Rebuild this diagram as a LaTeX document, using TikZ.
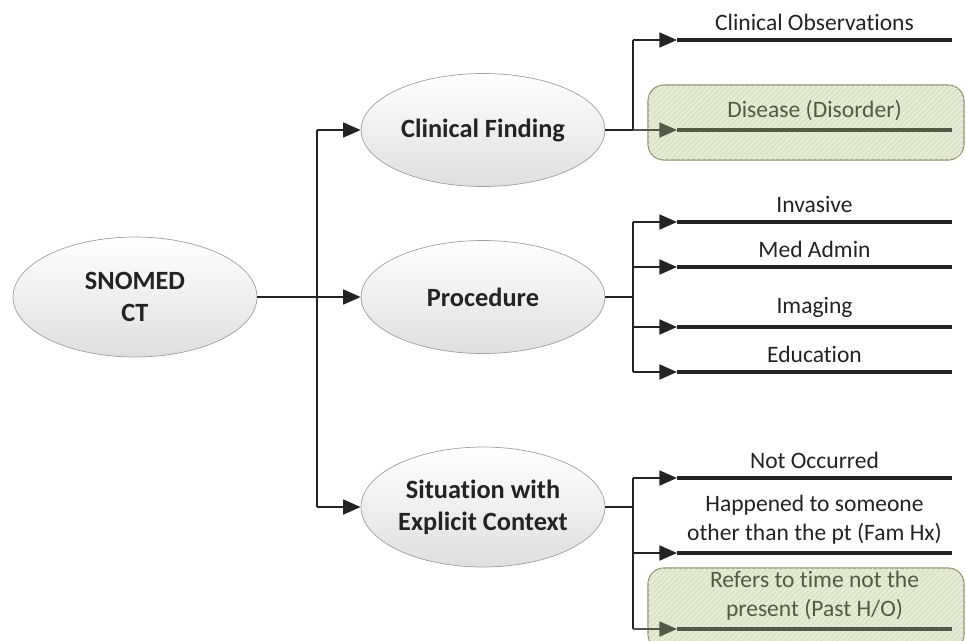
\documentclass[tikz,border=0pt]{standalone}
\usepackage{fontspec}
\setmainfont[Ligatures=NoCommon]{Carlito}
\usetikzlibrary{positioning,shapes.geometric,arrows.meta,patterns}
\pgfdeclarelayer{bg}
\pgfsetlayers{bg,main}
\definecolor{inkgray}{RGB}{35,35,35}
\definecolor{paleolive}{RGB}{229,236,214}
\definecolor{hatchline}{RGB}{210,220,192}
\definecolor{oliveink}{RGB}{80,90,70}
\tikzset{
  concept/.style={ellipse,draw=gray!75,top color=white,bottom color=gray!25,
    font=\bfseries\fontsize{15}{18}\selectfont,text=inkgray,align=center,
    minimum width=4.88cm,minimum height=2.26cm,inner sep=0pt},
  trunk/.style={line width=1.1pt,draw=inkgray},
  branch/.style={trunk,-{Triangle[length=10pt,width=8.5pt]}},
  leafline/.style={line width=2.4pt,draw=inkgray},
  leaftext/.style={font=\fontsize{13.4}{16.5}\selectfont,text=inkgray,align=center,
    anchor=south,inner sep=0pt,yshift=4pt},
  highlight/.style={rounded corners=9pt,draw=gray!70!olive,line width=0.6pt,
    fill=paleolive,postaction={pattern=north east lines,pattern color=hatchline}},
  fadedline/.style={draw=oliveink},
  fadedtext/.style={text=oliveink}
}
\begin{document}
\begin{tikzpicture}[x=0.02cm,y=-0.02cm]
\useasboundingbox (0,0) rectangle (966,640);
% concepts
\node[concept,minimum height=2.4cm] (root) at (135,297) {SNOMED\\CT};
\node[concept] (finding) at (483,130) {Clinical Finding};
\node[concept] (procedure) at (483,297) {Procedure};
\node[concept,minimum height=2.4cm] (situation) at (483,507) {Situation with\\Explicit Context};
% trunk from root
\coordinate (j0) at (317,297);
\draw[trunk] (root.east) -- (j0);
\draw[trunk] (j0 |- finding) -- (j0 |- situation);
\draw[branch] (j0 |- finding) -- (finding.west);
\draw[branch] (j0) -- (procedure.west);
\draw[branch] (j0 |- situation) -- (situation.west);
% leaf ends
\coordinate (obs) at (677,40);      \coordinate (obsE) at (952,40);
\coordinate (dis) at (677,130);     \coordinate (disE) at (952,130);
\coordinate (inv) at (677,222);     \coordinate (invE) at (952,222);
\coordinate (med) at (677,267);     \coordinate (medE) at (952,267);
\coordinate (img) at (677,327);     \coordinate (imgE) at (952,327);
\coordinate (edu) at (677,372);     \coordinate (eduE) at (952,372);
\coordinate (noc) at (677,478);     \coordinate (nocE) at (952,478);
\coordinate (fam) at (677,553);     \coordinate (famE) at (952,553);
\coordinate (past) at (677,629);    \coordinate (pastE) at (952,629);
% clinical finding
\coordinate (j1) at (633,130);
\draw[trunk] (finding.east) -- (j1);
\draw[trunk] (j1) -- (j1 |- obs);
\draw[branch] (j1 |- obs) -- (obs);
\draw[branch,fadedline] (j1 |- dis) -- (dis);
\draw[leafline] (obs) -- (obsE) node[midway,leaftext] (obsT) {Clinical Observations};
\draw[leafline,fadedline] (dis) -- (disE) node[midway,leaftext,fadedtext] (disT) {Disease (Disorder)};
% procedure
\coordinate (j2) at (633,297);
\draw[trunk] (procedure.east) -- (j2);
\draw[trunk] (j2 |- inv) -- (j2 |- edu);
\foreach \leaf in {inv,med,img,edu}
  \draw[branch] (j2 |- \leaf) -- (\leaf);
\draw[leafline] (inv) -- (invE) node[midway,leaftext] (invT) {Invasive};
\draw[leafline] (med) -- (medE) node[midway,leaftext] (medT) {Med Admin};
\draw[leafline] (img) -- (imgE) node[midway,leaftext] (imgT) {Imaging};
\draw[leafline] (edu) -- (eduE) node[midway,leaftext] (eduT) {Education};
% situation
\coordinate (j3) at (633,507);
\draw[trunk] (situation.east) -- (j3);
\draw[trunk] (j3 |- noc) -- (j3 |- past);
\foreach \leaf in {noc,fam}
  \draw[branch] (j3 |- \leaf) -- (\leaf);
\draw[branch,fadedline] (j3 |- past) -- (past);
\draw[leafline] (noc) -- (nocE) node[midway,leaftext] (nocT) {Not Occurred};
\draw[leafline] (fam) -- (famE) node[midway,leaftext] (famT) {Happened to someone\\other than the pt (Fam Hx)};
\draw[leafline,fadedline] (past) -- (pastE) node[midway,leaftext,fadedtext] (pastT) {Refers to time not the\\present (Past H/O)};
% highlighted leaves
\begin{pgfonlayer}{bg}
  \draw[highlight] (648,85) rectangle (964,160);
  \draw[highlight] (648,568) rectangle (964,650);
\end{pgfonlayer}
\end{tikzpicture}
\end{document}
